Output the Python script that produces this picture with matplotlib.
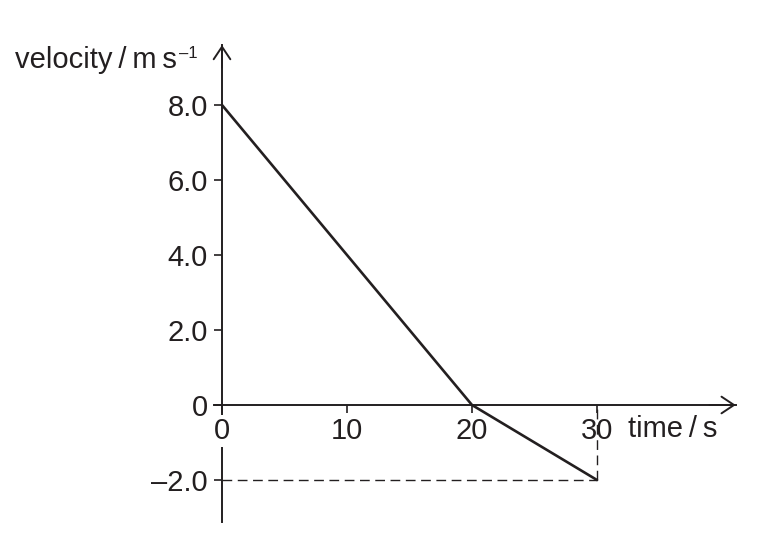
import matplotlib
matplotlib.use('Agg')
import matplotlib.pyplot as plt

# velocity-time data
time = [0, 20, 30]
velocity = [8.0, 0.0, -2.0]

x_ticks = [0, 10, 20, 30]
x_labels = ['0', '10', '20', '30']
y_ticks = [-2.0, 0, 2.0, 4.0, 6.0, 8.0]
y_labels = ['\u20132.0', '0', '2.0', '4.0', '6.0', '8.0']

ink = '#231f20'
plt.rcParams['font.family'] = ['Liberation Sans', 'DejaVu Sans']

fig = plt.figure(figsize=(7.8, 5.4), dpi=100)
ax = fig.add_axes([0, 0, 1, 1])
ax.set_xlim(-17.76, 44.64)
ax.set_ylim(-3.6, 10.8)

# axes through the origin
for side in ['top', 'right']:
    ax.spines[side].set_visible(False)
ax.spines['left'].set_position(('data', 0))
ax.spines['bottom'].set_position(('data', 0))
ax.spines['left'].set_bounds(-3.12, 9.6)
ax.spines['bottom'].set_bounds(-0.64, 41.1)
for side in ['left', 'bottom']:
    ax.spines[side].set_linewidth(1.4)
    ax.spines[side].set_color(ink)

ax.set_xticks(x_ticks, x_labels)
ax.set_yticks(y_ticks, y_labels)
ax.tick_params(direction='out', length=5.8, width=1.2, color=ink,
               labelsize=21, labelcolor=ink)
ax.tick_params(axis='x', pad=3)
ax.tick_params(axis='y', pad=4.5)
ax.xaxis.set_zorder(3)
ax.get_xticklabels()[0].set_bbox(dict(facecolor='white', edgecolor='none', pad=1.5))

# arrow heads
arrow = dict(arrowstyle='->,head_length=0.45,head_width=0.3', lw=1.4, color=ink,
             mutation_scale=20, shrinkA=0, shrinkB=0)
ax.annotate('', xy=(0, 9.6), xytext=(0, 9.0), arrowprops=arrow)
ax.annotate('', xy=(41.1, 0), xytext=(39.0, 0), arrowprops=arrow)

# the graph
ax.plot(time, velocity, color=ink, lw=1.9, solid_capstyle='round', zorder=4)

# guide lines to the final point
ax.plot([0, time[-1]], [velocity[-1], velocity[-1]], color=ink, lw=1.0,
        dashes=(7, 4), zorder=2)
ax.plot([time[-1], time[-1]], [velocity[-1], 0], color=ink, lw=1.0,
        dashes=(7, 4), zorder=2)

# axis titles
vel = ax.text(-16.56, 8.99, 'velocity\u2009/\u2009m\u2009s', fontsize=21, color=ink,
              ha='left', va='baseline')
ax.annotate('\u20131', xy=(1, 1), xycoords=vel, xytext=(1.5, 0),
            textcoords='offset points', fontsize=12, color=ink,
            ha='left', va='top')
ax.text(32.48, -0.853, 'time\u2009/\u2009s', fontsize=21, color=ink,
        ha='left', va='baseline')

fig.savefig('out.png', dpi=100)
